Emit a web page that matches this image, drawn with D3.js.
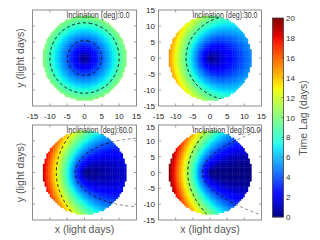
<!DOCTYPE html>
<html>
<head>
<meta charset="utf-8">
<script src="https://cdn.jsdelivr.net/npm/d3@7"></script>
<style>
body { margin: 0; background: #fff; }
svg { display: block; }
text { font-family: "Liberation Sans", Arial, sans-serif; }
</style>
</head>
<body>
<svg id="chart" width="320" height="240"></svg>
<script>
// values
var inclinations = [0, 30, 60, 90];
var panelTitles = ["Inclination (deg):0.0", "Inclination (deg):30.0", "Inclination (deg):60.0", "Inclination (deg):90.0"];
var titleWidths = [63, 65, 66, 68];
var contourLevels = [[4.2, 8.5], [8.9], [4.2, 12.9], [3.7, 11]];
var contourOutside = [[0, 0], [0], [1, 0], [1, 0]];   // does the dashed line run on past the disk edge
var diskRadius = 12;      // light days
var lagScale = 0.85;      // lag per light day of path difference
var axisTicks = [-15, -10, -5, 0, 5, 10, 15];
var barTicks = [0, 2, 4, 6, 8, 10, 12, 14, 16, 18, 20];

// jet colour map (matplotlib segments)
var jetR = d3.scaleLinear([0, 0.35, 0.66, 0.89, 1], [0, 0, 1, 1, 0.5]).clamp(true);
var jetG = d3.scaleLinear([0, 0.125, 0.375, 0.64, 0.91, 1], [0, 0, 1, 1, 0, 0]).clamp(true);
var jetB = d3.scaleLinear([0, 0.11, 0.34, 0.65, 1], [0.5, 1, 1, 0, 0]).clamp(true);
var lagNorm = d3.scaleLinear([0, 20], [0, 1]).clamp(true);
function jet(lag) {
	var t = lagNorm(lag);
	return d3.rgb(255 * jetR(t), 255 * jetG(t), 255 * jetB(t)).toString();
}

// time lag of a point on the disk, seen at inclination inc
function lagAt(u, v, inc) {
	var r = Math.sqrt(u * u + v * v);
	return lagScale * (r - u * Math.sin(inc * Math.PI / 180));
}

var svg = d3.select("#chart");
var defs = svg.append("defs");
var stretch = 1.1;   // disk drawn slightly taller than wide, as in the picture

var panels = [
	{x: 32.5, y: 10, w: 104, h: 96},
	{x: 158.5, y: 10, w: 103, h: 96},
	{x: 32.5, y: 125, w: 104, h: 95},
	{x: 158.5, y: 125, w: 103, h: 95}
];

panels.forEach(function (p, k) {
	var inc = inclinations[k],
		xs = d3.scaleLinear([-15, 15], [p.x, p.x + p.w]),
		ys = d3.scaleLinear([-15, 15], [p.y + p.h, p.y]),
		g = svg.append("g"),
		cx = xs(0), cy = ys(0),
		rx = xs(diskRadius) - xs(0), ry = ys(0) - ys(diskRadius * stretch);

	defs.append("clipPath").attr("id", "disk" + k)
		.append("ellipse").attr("cx", cx).attr("cy", cy).attr("rx", rx).attr("ry", ry);
	var m = defs.append("mask").attr("id", "out" + k);
	m.append("rect").attr("x", p.x).attr("y", p.y).attr("width", p.w).attr("height", p.h).attr("fill", "#fff");
	m.append("ellipse").attr("cx", cx).attr("cy", cy).attr("rx", rx).attr("ry", ry).attr("fill", "#000");

	// disk cells
	var step = 0.5, cells = [];
	for (var u = -diskRadius + step / 2; u < diskRadius; u += step) {
		for (var v = -diskRadius + step / 2; v < diskRadius; v += step) {
			if (u * u + v * v <= diskRadius * diskRadius) cells.push({u: u, v: v, lag: lagAt(u, v, inc)});
		}
	}
	g.append("g").selectAll("rect").data(cells).enter().append("rect")
		.attr("x", function (d) { return xs(d.u - step / 2); })
		.attr("y", function (d) { return ys((d.v + step / 2) * stretch); })
		.attr("width", function (d) { return xs(d.u + step / 2) - xs(d.u - step / 2) + 0.4; })
		.attr("height", function (d) { return ys((d.v - step / 2) * stretch) - ys((d.v + step / 2) * stretch) + 0.4; })
		.attr("fill", function (d) { return jet(d.lag); });

	// dashed iso-lag contours over a grid wider than the frame
	var gs = 0.25, g0 = -18, n = Math.round(36 / gs) + 1, values = new Array(n * n);
	for (var j = 0; j < n; j++) {
		for (var i = 0; i < n; i++) values[j * n + i] = lagAt(g0 + i * gs, g0 + j * gs, inc);
	}
	var contours = d3.contours().size([n, n]).smooth(true).thresholds(contourLevels[k])(values);
	var line = d3.line()
		.x(function (pt) { return xs(g0 + (pt[0] - 0.5) * gs); })
		.y(function (pt) { return ys((g0 + (pt[1] - 0.5) * gs) * stretch); });
	var rings = [];
	contours.forEach(function (c, ci) {
		c.coordinates.forEach(function (poly) {
			poly.forEach(function (ring) { rings.push({ring: ring, outside: contourOutside[k][ci]}); });
		});
	});
	g.append("g").attr("clip-path", "url(#disk" + k + ")").selectAll("path").data(rings).enter().append("path")
		.attr("d", function (d) { return line(d.ring); }).attr("fill", "none").attr("stroke", "#111")
		.attr("stroke-width", 1).attr("stroke-dasharray", "3,2.6");
	g.append("g").attr("mask", "url(#out" + k + ")").selectAll("path")
		.data(rings.filter(function (d) { return d.outside; })).enter().append("path")
		.attr("d", function (d) { return line(d.ring); }).attr("fill", "none").attr("stroke", "#777")
		.attr("stroke-width", 1).attr("stroke-dasharray", "3,2.6");

	// frame and inward ticks
	g.append("rect").attr("x", p.x).attr("y", p.y).attr("width", p.w).attr("height", p.h)
		.attr("fill", "none").attr("stroke", "#8c8c8c").attr("stroke-width", 1);
	var inner = axisTicks.slice(1, -1), tl = 2.5, tg = g.append("g").attr("stroke", "#8c8c8c").attr("stroke-width", 0.8);
	inner.forEach(function (t) {
		tg.append("line").attr("x1", xs(t)).attr("x2", xs(t)).attr("y1", p.y + p.h).attr("y2", p.y + p.h - tl);
		tg.append("line").attr("x1", xs(t)).attr("x2", xs(t)).attr("y1", p.y).attr("y2", p.y + tl);
		tg.append("line").attr("y1", ys(t)).attr("y2", ys(t)).attr("x1", p.x).attr("x2", p.x + tl);
		tg.append("line").attr("y1", ys(t)).attr("y2", ys(t)).attr("x1", p.x + p.w).attr("x2", p.x + p.w - tl);
	});

	// panel title
	g.append("text").attr("x", p.x + 34).attr("y", p.y + 7.5)
		.attr("textLength", titleWidths[k]).attr("lengthAdjust", "spacingAndGlyphs")
		.style("font-size", "8.5px").attr("fill", "#333").text(panelTitles[k]);

	// tick labels: x under the top row, y left of the right column
	if (k < 2) {
		g.selectAll("text.xt").data(axisTicks).enter().append("text").attr("class", "xt")
			.attr("x", function (d) { return xs(d); }).attr("y", p.y + p.h + 12.5)
			.attr("text-anchor", "middle").style("font-size", "8px").attr("fill", "#222")
			.text(function (d) { return d; });
	}
	if (k % 2 === 1) {
		g.selectAll("text.yt").data(axisTicks).enter().append("text").attr("class", "yt")
			.attr("x", p.x - 3.5).attr("y", function (d) { return ys(d) + (k === 3 && d === 15 ? 4.5 : 3); })
			.attr("text-anchor", "end").style("font-size", "8px").attr("fill", "#222")
			.text(function (d) { return d; });
	}
	if (k % 2 === 0) {
		g.append("text").attr("transform", "translate(24," + (p.y + p.h / 2) + ") rotate(-90)")
			.attr("text-anchor", "middle").style("font-size", "10.5px").attr("fill", "#555")
			.text("y (light days)");
	}
	if (k >= 2) {
		g.append("text").attr("x", p.x + p.w / 2).attr("y", 233)
			.attr("text-anchor", "middle").style("font-size", "10.5px").attr("fill", "#555")
			.text("x (light days)");
	}
});

// colour bar
var bx = 272.5, bw = 11,
	by = d3.scaleLinear([0, 20], [217, 18]),
	bar = svg.append("g"),
	stops = d3.range(0, 20, 0.1);
bar.selectAll("rect.c").data(stops).enter().append("rect").attr("class", "c")
	.attr("x", bx).attr("width", bw)
	.attr("y", function (d) { return by(d + 0.1); })
	.attr("height", function (d) { return by(d) - by(d + 0.1) + 0.3; })
	.attr("fill", function (d) { return jet(d + 0.05); });
bar.append("rect").attr("x", bx).attr("y", by(20)).attr("width", bw).attr("height", by(0) - by(20))
	.attr("fill", "none").attr("stroke", "#444").attr("stroke-width", 0.8);
bar.selectAll("line").data(barTicks.slice(1, -1)).enter().append("line")
	.attr("x1", bx + bw).attr("x2", bx + bw - 2).attr("y1", function (d) { return by(d); }).attr("y2", function (d) { return by(d); })
	.attr("stroke", "#444").attr("stroke-width", 0.6);
bar.selectAll("text").data(barTicks).enter().append("text")
	.attr("x", bx + bw + 2.5).attr("y", function (d) { return by(d) + 3; })
	.style("font-size", "8px").attr("fill", "#333").text(function (d) { return d; });
svg.append("text").attr("transform", "translate(307,118) rotate(-90)")
	.attr("text-anchor", "middle").style("font-size", "10.5px").attr("fill", "#555")
	.text("Time Lag (days)");
</script>
</body>
</html>
